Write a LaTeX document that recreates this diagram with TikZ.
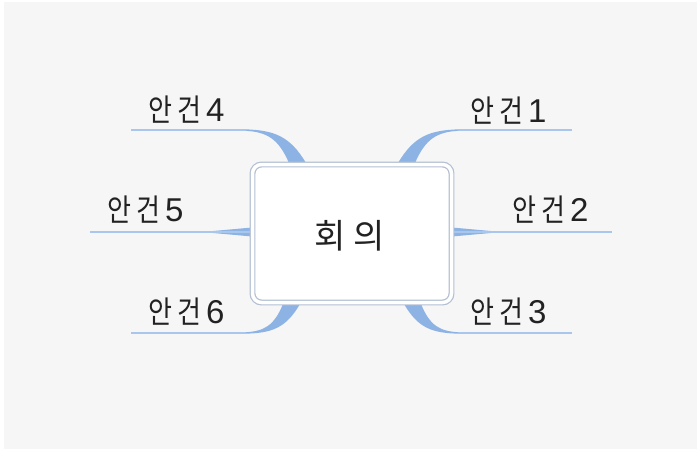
\documentclass[tikz,border=0pt]{standalone}
\usepackage{graphicx}
\usepackage{fontspec}
\newfontfamily\kr{Noto Sans CJK KR}
\newfontfamily\ar{Liberation Sans}
\definecolor{bg}{HTML}{F6F6F6}
\definecolor{br}{HTML}{8DB3E5}
\definecolor{ln}{HTML}{A9C6EC}
\definecolor{bx}{HTML}{B3BFD3}
\definecolor{tx}{HTML}{222222}
\newcommand\krglyph[1]{\scalebox{0.84}[1]{#1}}
\newcommand\lbltext[1]{{\kr\fontsize{31}{36}\selectfont \krglyph{안}\hspace{5pt}\krglyph{건}}\hspace{5pt}{\ar\fontsize{33}{36}\selectfont #1}}
\tikzset{
  branch/.style={fill=br},
  twig/.style={draw=ln, line width=1.6pt},
  lbl/.style={anchor=base west, inner sep=0pt, text=tx},
  centralbox/.style={draw=bx, double=white, double distance=3.5pt, line width=1.2pt,
     fill=white, rounded corners=9pt, minimum width=199pt, minimum height=138pt, inner sep=0pt}
}
\begin{document}
\begin{tikzpicture}[x=1pt,y=-1pt]
\useasboundingbox (0,0) rectangle (697,450);
\fill[white] (0,0) rectangle (697,450);
\fill[bg] (4,2) rectangle (697,449);
% end points of the twigs
\coordinate (e1) at (572,130);
\coordinate (s1) at (458,130);
\coordinate (e2) at (612,232);
\coordinate (s2) at (454,232);
\coordinate (e3) at (572,333);
\coordinate (s3) at (458,333);
\coordinate (e4) at (131,130);
\coordinate (s4) at (246,130);
\coordinate (e5) at (90,232);
\coordinate (s5) at (250,232);
\coordinate (e6) at (131,333);
\coordinate (s6) at (246,333);
% tapered branches
\fill[branch] (398,163) .. controls (414,136) and (430,130) .. (460,129.3) -- (460,130.8) .. controls (436,131.5) and (425,140) .. (415,163) -- cycle;
\fill[branch] (306,163) .. controls (290,136) and (274,130) .. (244,129.3) -- (244,130.8) .. controls (268,131.5) and (279,140) .. (289,163) -- cycle;
\fill[branch] (404,304) .. controls (418,328) and (432,333.3) .. (460,333.7) -- (460,332.3) .. controls (440,331.5) and (430,326) .. (421,304) -- cycle;
\fill[branch] (300,304) .. controls (286,328) and (272,333.3) .. (244,333.7) -- (244,332.3) .. controls (264,331.5) and (274,326) .. (283,304) -- cycle;
\fill[branch] (452,227.5) -- (493,231.2) -- (493,232.8) -- (452,236.5) -- cycle;
\fill[branch] (252,227.5) -- (211,231.2) -- (211,232.8) -- (252,236.5) -- cycle;
% twigs
\draw[twig] (s1) -- (e1);
\draw[twig] (s2) -- (e2);
\draw[twig] (s3) -- (e3);
\draw[twig] (s4) -- (e4);
\draw[twig] (s5) -- (e5);
\draw[twig] (s6) -- (e6);
% central topic
\node[centralbox] (c) at (352,233.5) {};
\node[anchor=base, inner sep=0pt, text=tx] (t) at (350,248) {\kr\fontsize{34}{40}\selectfont 회\hspace{8pt}의};
% labels
\node[lbl] (l1) at (470,122) {\lbltext{1}};
\node[lbl] (l2) at (512,221) {\lbltext{2}};
\node[lbl] (l3) at (470,323) {\lbltext{3}};
\node[lbl] (l4) at (148,121) {\lbltext{4}};
\node[lbl] (l5) at (107,221) {\lbltext{5}};
\node[lbl] (l6) at (148,323) {\lbltext{6}};
\end{tikzpicture}
\end{document}
